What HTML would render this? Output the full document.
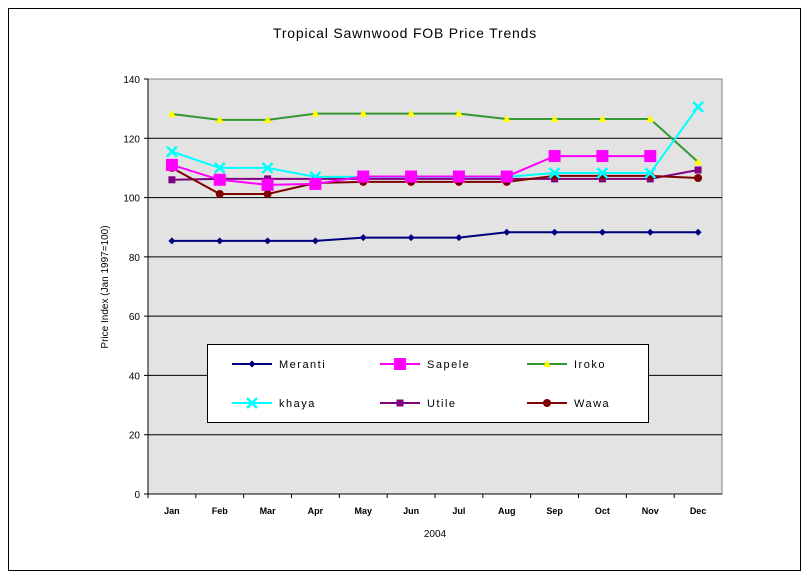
<!DOCTYPE html>
<html><head><meta charset="utf-8"><style>
body{margin:0;background:#fff;font-family:"Liberation Sans",sans-serif}
svg text{font-family:"Liberation Sans",sans-serif}
</style></head><body>
<svg id="c" width="809" height="579" xmlns="http://www.w3.org/2000/svg">
<rect x="8.5" y="8.5" width="792" height="562" fill="#fff" stroke="#000"/>
<text x="405" y="38" text-anchor="middle" font-size="14" letter-spacing="0.8">Tropical Sawnwood FOB Price Trends</text>
<rect x="148" y="79" width="574" height="415" fill="#e3e3e3" stroke="#808080"/>
<g id="grid"></g><g id="series"></g>
<text transform="translate(108,287) rotate(-90)" text-anchor="middle" font-size="10">Price Index (Jan 1997=100)</text>
<text x="435" y="537" text-anchor="middle" font-size="10">2004</text>
<rect x="207.5" y="344.5" width="441" height="78" fill="#fff" stroke="#000"/>
<g id="legend"></g>
</svg>
<script>
const months=["Jan","Feb","Mar","Apr","May","Jun","Jul","Aug","Sep","Oct","Nov","Dec"];
const yTicks=[0,20,40,60,80,100,120,140];
const meranti=[85.4,85.4,85.4,85.4,86.5,86.5,86.5,88.3,88.3,88.3,88.3,88.3];
const sapele=[111,106,104.3,104.6,107.1,107.1,107.1,107.1,114,114,114,null];
const iroko=[128.2,126.2,126.2,128.3,128.3,128.3,128.3,126.5,126.5,126.5,126.5,112];
const khaya=[115.5,110,110,107,107,107,107,107,108.3,108.3,108.3,130.6];
const utile=[106,106.3,106.3,106.3,106.3,106.3,106.3,106.3,106.3,106.3,106.3,109.3];
const wawa=[110,101.2,101.2,104.9,105.3,105.3,105.3,105.3,107.3,107.3,107.3,106.6];
const names=["Meranti","Sapele","Iroko","khaya","Utile","Wawa"];
const NS="http://www.w3.org/2000/svg";
const X0=148,X1=722,Y0=494,Y1=79;
const xs=i=>X0+(X1-X0)/months.length*(i+0.5);
const ys=v=>Y0-(v/140)*(Y0-Y1);
function mk(t,a,p){const e=document.createElementNS(NS,t);for(const k in a)e.setAttribute(k,a[k]);p.appendChild(e);return e;}
const grid=document.getElementById('grid');
yTicks.forEach(v=>{
 if(v>0&&v<140){const l=mk('line',{x1:X0,x2:X1,y1:ys(v),y2:ys(v),stroke:'#000'},grid);
 
 }
 mk('line',{x1:X0-4,x2:X0,y1:ys(v),y2:ys(v),stroke:'#000'},grid);
 const t=mk('text',{x:X0-8,y:ys(v)+4,'text-anchor':'end','font-size':10},grid);t.textContent=v;
 
 
});
mk('line',{x1:X0,x2:X1,y1:Y0,y2:Y0,stroke:'#000'},grid);
mk('line',{x1:X0,x2:X0,y1:Y0,y2:Y1,stroke:'#000'},grid);
months.forEach((m,i)=>{
 mk('line',{x1:X0+(X1-X0)/12*i,x2:X0+(X1-X0)/12*i,y1:Y0,y2:Y0+4,stroke:'#000'},grid);
 const t=mk('text',{x:xs(i),y:514,'text-anchor':'middle','font-size':9,'font-weight':'bold'},grid);t.textContent=m;
 
 
});
function marker(type,color,x,y,p){
 if(type==='diamond')return mk('path',{d:`M${x} ${y-3.5}L${x+3.5} ${y}L${x} ${y+3.5}L${x-3.5} ${y}Z`,fill:color},p);
 if(type==='square')return mk('rect',{x:x-6,y:y-6,width:12,height:12,fill:color},p);
 if(type==='triangle')return mk('path',{d:`M${x} ${y-4}L${x+4} ${y+3}L${x-4} ${y+3}Z`,fill:color},p);
 if(type==='x'){const g=mk('path',{d:`M${x-5} ${y-5}L${x+5} ${y+5}M${x+5} ${y-5}L${x-5} ${y+5}`,stroke:color,'stroke-width':2.5},p);return g;}
 if(type==='sq')return mk('rect',{x:x-3.5,y:y-3.5,width:7,height:7,fill:color},p);
 return mk('circle',{cx:x,cy:y,r:4,fill:color},p);
}
const defs=[[meranti,'#000080','diamond'],[sapele,'#ff00ff','square'],[iroko,'#339933','triangle'],[khaya,'#00ffff','x'],[utile,'#800080','sq'],[wawa,'#800000','circle']];
const ser=document.getElementById('series');
const order=[2,0,4,5,3,1];
order.forEach(k=>{
 const [d,c,m]=defs[k];
 const g=mk('g',{},ser);
 
 
 let pts=[];d.forEach((v,i)=>{if(v!=null)pts.push(xs(i)+','+ys(v));});
 mk('polyline',{points:pts.join(' '),fill:'none',stroke:c,'stroke-width':2},g);
 d.forEach((v,i)=>{if(v!=null){const mm=marker(m,k===2?'#ffff00':c,xs(i),ys(v),g);
  
  }});
});
const lg=document.getElementById('legend');
const lpos=[[232,364],[380,364],[527,364],[232,403],[380,403],[527,403]];
defs.forEach(([d,c,m],k)=>{
 const [x,y]=lpos[k];
 const g=mk('g',{},lg);
 
 
 mk('line',{x1:x,x2:x+40,y1:y,y2:y,stroke:c,'stroke-width':2},g);
 marker(m,k===2?'#ffff00':c,x+20,y,g);
 const t=mk('text',{x:x+47,y:y+4,'font-size':11,'letter-spacing':'1.5'},g);t.textContent=names[k];
});
</script>
</body></html>
